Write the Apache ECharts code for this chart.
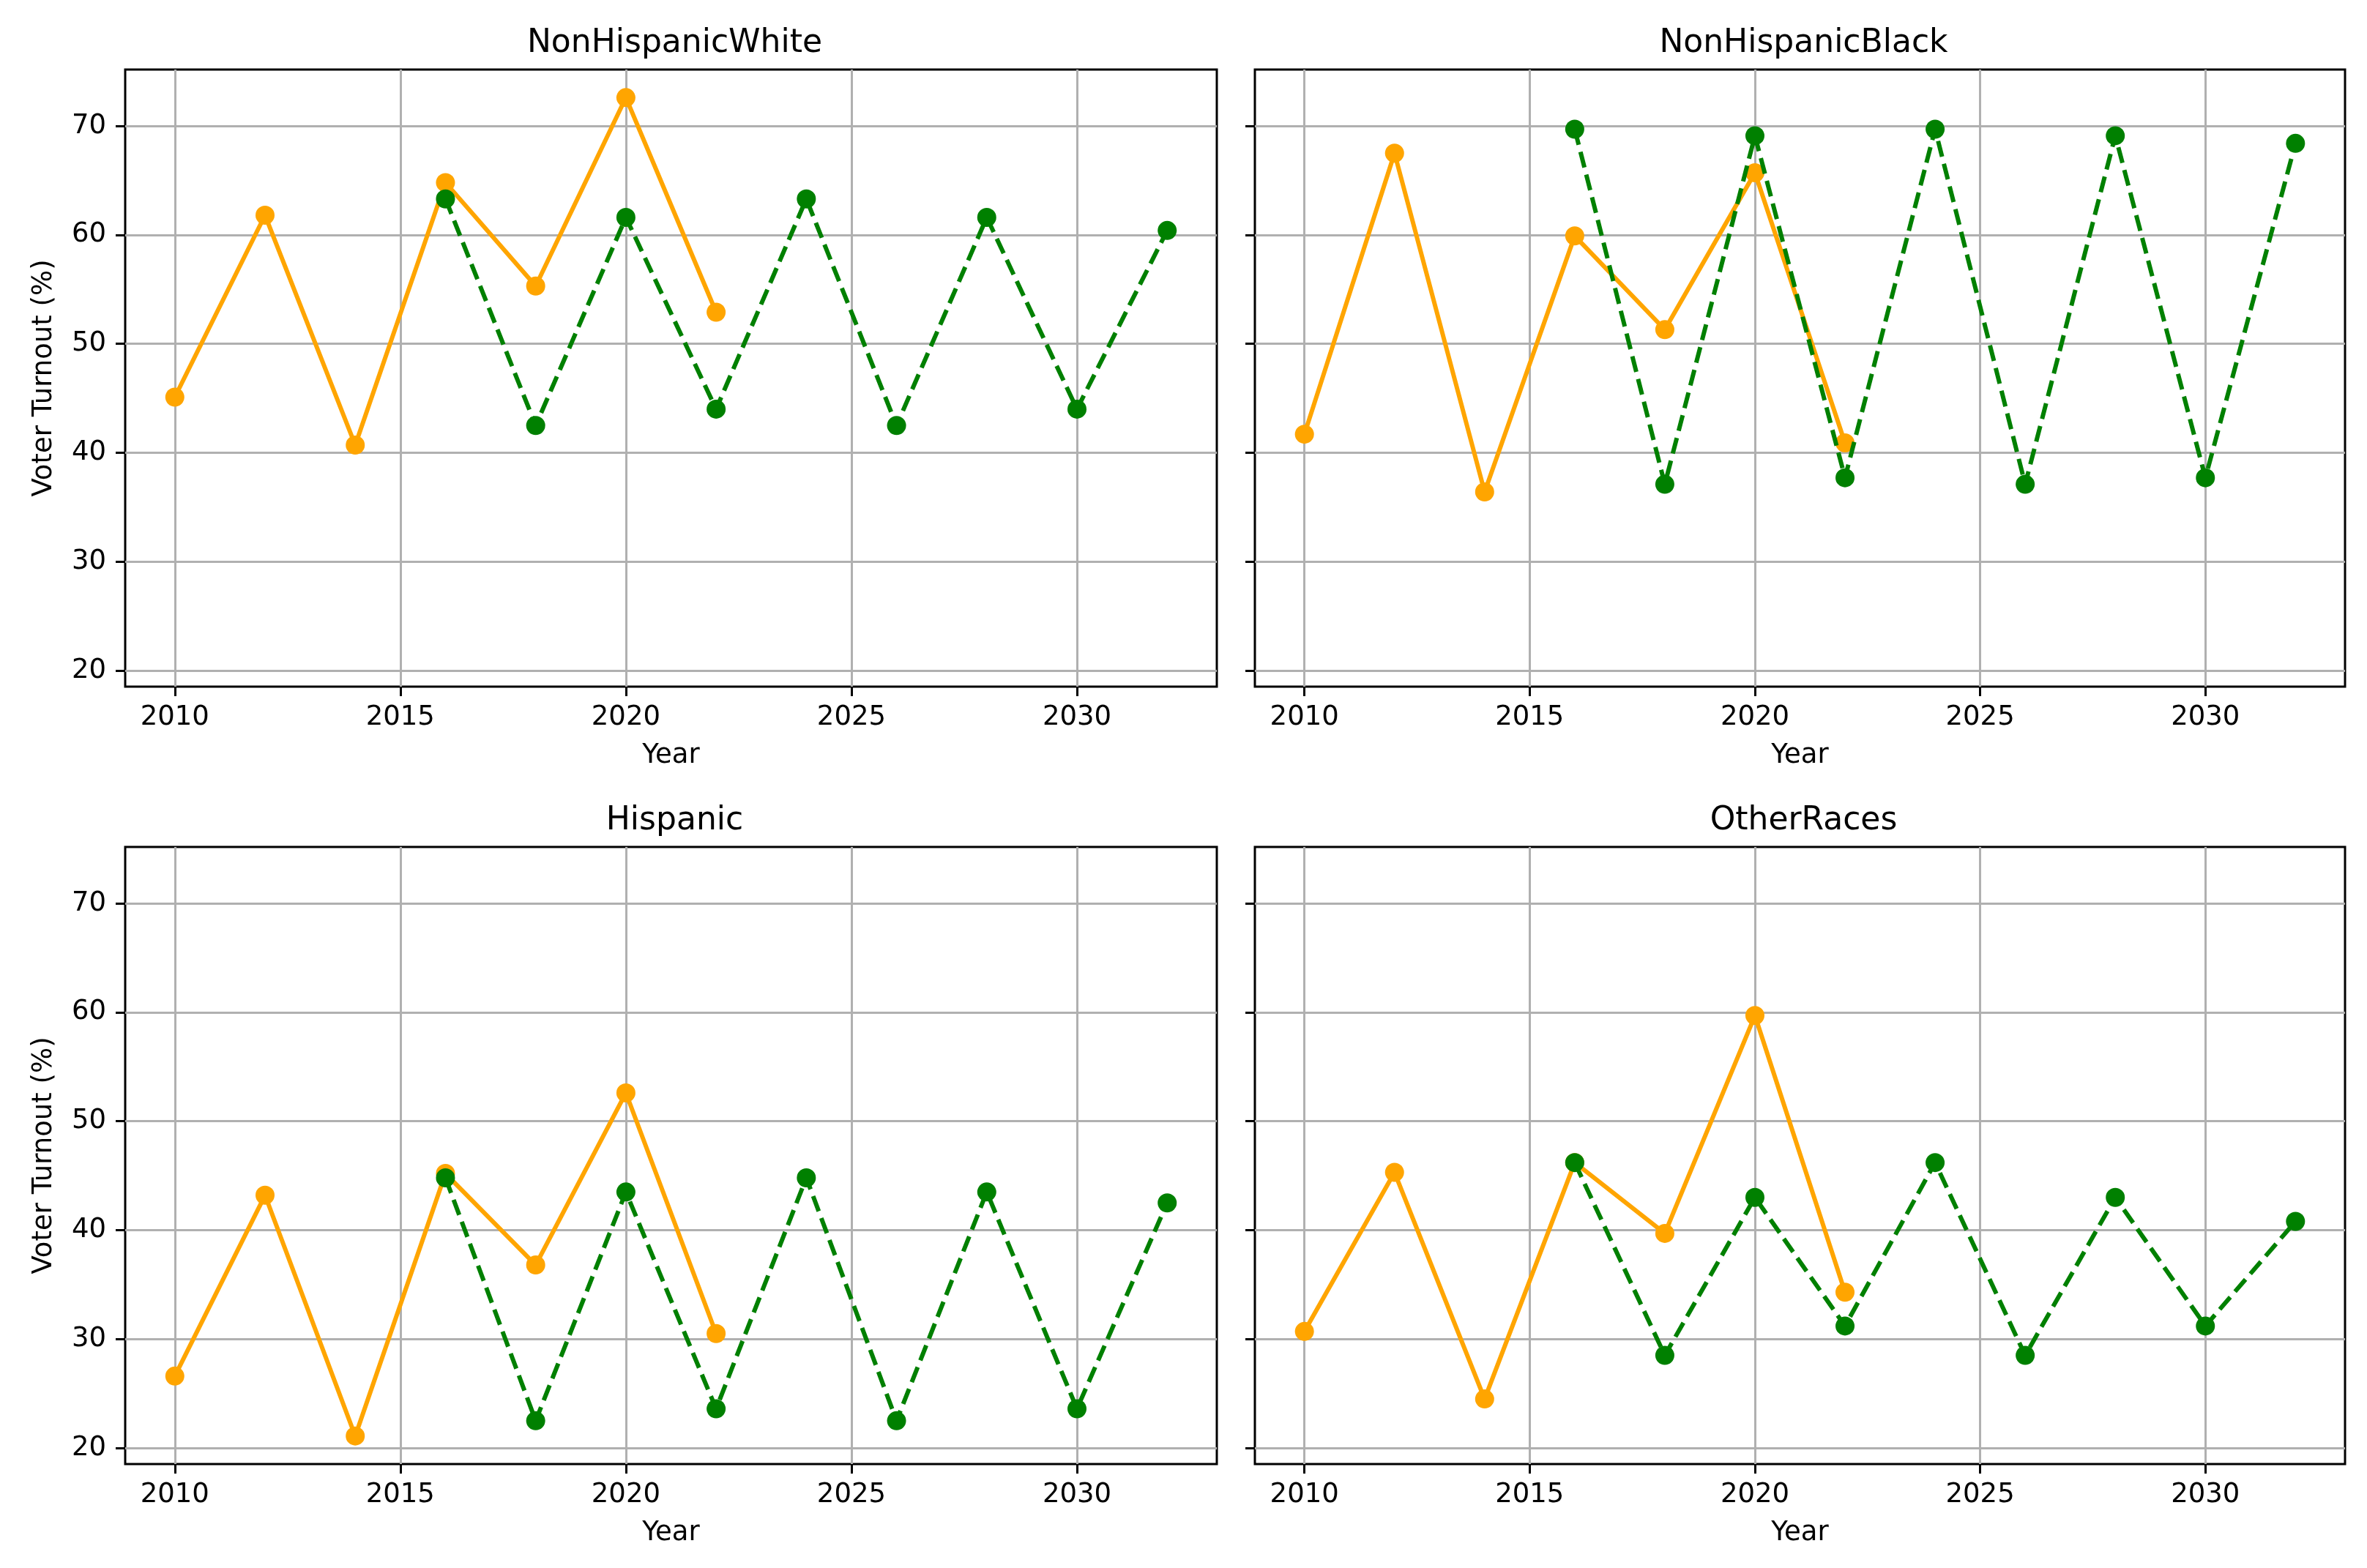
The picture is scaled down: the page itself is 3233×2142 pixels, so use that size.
<!DOCTYPE html>
<html>
<head>
<meta charset="utf-8">
<script src="https://cdn.jsdelivr.net/npm/echarts@6/dist/echarts.min.js"></script>
<style>
  html, body { margin: 0; padding: 0; background: #ffffff; }
  #chart { width: 3233px; height: 2142px; }
</style>
</head>
<body>
<div id="chart"></div>
<script>
// ---- data ----
const groups = ['NonHispanicWhite', 'NonHispanicBlack', 'Hispanic', 'OtherRaces'];
const actualYears = [2010, 2012, 2014, 2016, 2018, 2020, 2022];
const forecastYears = [2016, 2018, 2020, 2022, 2024, 2026, 2028, 2030, 2032];

const whiteActual   = [45.1, 61.8, 40.7, 64.8, 55.3, 72.6, 52.9];
const whiteForecast = [63.3, 42.5, 61.6, 44.0, 63.3, 42.5, 61.6, 44.0, 60.4];
const blackActual   = [41.7, 67.5, 36.4, 59.9, 51.3, 65.7, 40.9];
const blackForecast = [69.7, 37.1, 69.1, 37.7, 69.7, 37.1, 69.1, 37.7, 68.4];
const hispActual    = [26.6, 43.2, 21.1, 45.2, 36.8, 52.6, 30.5];
const hispForecast  = [44.8, 22.5, 43.5, 23.6, 44.8, 22.5, 43.5, 23.6, 42.5];
const otherActual   = [30.7, 45.3, 24.5, 46.2, 39.7, 59.7, 34.3];
const otherForecast = [46.2, 28.5, 43.0, 31.2, 46.2, 28.5, 43.0, 31.2, 40.8];

const xTicks = [2010, 2015, 2020, 2025, 2030];
const yTicks = [20, 30, 40, 50, 60, 70];

const actualSets = [whiteActual, blackActual, hispActual, otherActual];
const forecastSets = [whiteForecast, blackForecast, hispForecast, otherForecast];

// ---- layout / style ----
const FONT = 'DejaVu Sans';
const ORANGE = '#FFA500';
const GREEN = '#008000';
const gridBoxes = [
  { left: 171, top: 95, width: 1491, height: 843 },
  { left: 1714, top: 95, width: 1489, height: 843 },
  { left: 171, top: 1157, width: 1491, height: 843 },
  { left: 1714, top: 1157, width: 1489, height: 843 }
];

// axis extents with matplotlib-like 5% margins
const allVals = actualSets.concat(forecastSets).flat();
const yMinD = Math.min(...allVals), yMaxD = Math.max(...allVals);
const yPad = (yMaxD - yMinD) * 0.05;
const allYears = actualYears.concat(forecastYears);
const xMinD = Math.min(...allYears), xMaxD = Math.max(...allYears);
const xPad = (xMaxD - xMinD) * 0.05;

const chart = echarts.init(document.getElementById('chart'), null, { renderer: 'canvas' });

const grids = [], xAxes = [], yAxes = [], series = [], titles = [];
gridBoxes.forEach((g, i) => {
  grids.push(Object.assign({ show: true, borderColor: '#000', borderWidth: 3, backgroundColor: 'transparent', containLabel: false }, g));
  titles.push({
    text: groups[i],
    left: g.left + g.width / 2,
    top: g.top - 62,
    textAlign: 'center',
    textStyle: { fontFamily: FONT, fontSize: 44, fontWeight: 'normal', color: '#000' }
  });
  xAxes.push({
    type: 'value', gridIndex: i,
    min: xMinD - xPad, max: xMaxD + xPad,
    name: 'Year', nameLocation: 'middle', nameGap: 76,
    nameTextStyle: { fontFamily: FONT, fontSize: 37, color: '#000' },
    axisLine: { show: false, onZero: false },
    axisTick: { show: true, length: 13, lineStyle: { color: '#000', width: 3 }, customValues: xTicks },
    axisLabel: { show: true, margin: 24, fontFamily: FONT, fontSize: 37, color: '#000', customValues: xTicks, formatter: v => String(v) },
    splitLine: { show: true, lineStyle: { color: '#b0b0b0', width: 3 } }
  });
  const left = (i % 2 === 0);
  yAxes.push({
    type: 'value', gridIndex: i,
    min: yMinD - yPad, max: yMaxD + yPad,
    name: left ? 'Voter Turnout (%)' : '', nameLocation: 'middle', nameGap: 92, nameRotate: 90,
    nameTextStyle: { fontFamily: FONT, fontSize: 37, color: '#000' },
    axisLine: { show: false, onZero: false },
    axisTick: { show: true, length: 13, lineStyle: { color: '#000', width: 3 }, customValues: yTicks },
    axisLabel: { show: left, margin: 26, fontFamily: FONT, fontSize: 37, color: '#000', customValues: yTicks, formatter: v => String(v) },
    splitLine: { show: true, lineStyle: { color: '#b0b0b0', width: 3 } }
  });
  series.push({
    type: 'line', xAxisIndex: i, yAxisIndex: i,
    data: actualYears.map((y, k) => [y, actualSets[i][k]]),
    symbol: 'circle', symbolSize: 26,
    itemStyle: { color: ORANGE },
    lineStyle: { color: ORANGE, width: 6 },
    animation: false, z: 3
  });
  series.push({
    type: 'line', xAxisIndex: i, yAxisIndex: i,
    data: forecastYears.map((y, k) => [y, forecastSets[i][k]]),
    symbol: 'circle', symbolSize: 26,
    itemStyle: { color: GREEN },
    lineStyle: { color: GREEN, width: 6, type: [22, 10] },
    animation: false, z: 4
  });
});

chart.setOption({
  backgroundColor: '#ffffff',
  animation: false,
  title: titles,
  grid: grids,
  xAxis: xAxes,
  yAxis: yAxes,
  series: series
});
</script>
</body>
</html>
